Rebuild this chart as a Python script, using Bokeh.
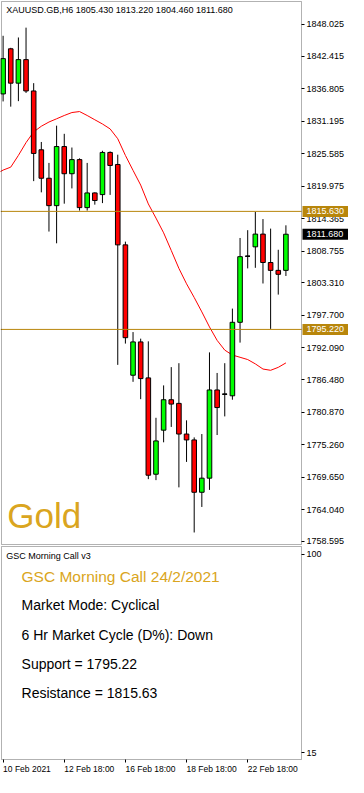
from bokeh.plotting import figure
from bokeh.layouts import column
from bokeh.models import (Range1d, FixedTicker, PrintfTickFormatter, Label, LinearAxis,
                          BoxAnnotation, ColumnDataSource)
from bokeh.core.properties import value
from bokeh.embed import file_html
from bokeh.resources import INLINE

# ---------------- data ----------------
symbol_title = "XAUUSD.GB,H6  1805.430 1813.220 1804.460 1811.680"

opens = [1835.94, 1843.74, 1837.80, 1841.87, 1836.45, 1826.28, 1821.36, 1816.62,
         1826.84, 1822.14, 1824.58, 1816.28, 1818.82, 1818.53, 1825.82, 1823.74,
         1809.84, 1787.30, 1793.06, 1786.84, 1770.18, 1777.80, 1783.06, 1782.43,
         1777.13, 1776.11, 1767.06, 1769.50, 1784.75, 1784.01, 1783.74, 1796.45,
         1807.86, 1809.50, 1811.70, 1806.79, 1805.43, 1805.43]
highs = [1845.99, 1843.91, 1845.70, 1847.40, 1837.80, 1827.63, 1824.01, 1830.45,
         1829.04, 1826.67, 1824.80, 1824.01, 1818.92, 1826.11, 1826.00, 1825.43,
         1810.40, 1794.76, 1793.62, 1793.16, 1779.94, 1785.54, 1788.70, 1789.38,
         1779.50, 1776.55, 1777.13, 1791.25, 1787.69, 1789.38, 1798.82, 1811.03,
         1812.38, 1815.53, 1814.30, 1812.65, 1808.99, 1813.22]
lows = [1834.64, 1833.74, 1834.69, 1836.11, 1820.86, 1818.92, 1812.14, 1810.11,
        1816.96, 1819.60, 1815.77, 1815.77, 1816.79, 1817.06, 1818.48, 1789.09,
        1792.77, 1786.16, 1783.16, 1769.33, 1769.16, 1775.70, 1778.36, 1767.91,
        1772.31, 1760.11, 1764.52, 1767.47, 1776.96, 1780.18, 1783.06, 1792.94,
        1805.77, 1805.87, 1803.16, 1795.31, 1801.24, 1804.46]
closes = [1842.04, 1837.80, 1841.87, 1836.45, 1825.65, 1821.36, 1816.62, 1826.84,
          1822.14, 1824.58, 1816.28, 1818.82, 1817.51, 1825.82, 1823.57, 1809.84,
          1793.79, 1793.06, 1786.72, 1770.01, 1775.94, 1783.06, 1782.31, 1777.13,
          1776.11, 1767.06, 1769.50, 1784.75, 1781.71, 1784.01, 1796.45, 1807.80,
          1807.86, 1811.70, 1806.79, 1805.43, 1804.75, 1811.68]
# moving average, first value belongs to the bar just before the first visible one
moving_avg = [1822.03, 1822.77, 1823.28, 1825.31, 1827.52, 1829.38, 1830.35, 1831.08,
              1831.64, 1832.21, 1832.72, 1832.89, 1832.21, 1831.47, 1830.74, 1829.89,
              1828.19, 1825.31, 1822.72, 1820.18, 1816.92, 1814.47, 1811.92, 1808.87,
              1805.77, 1803.11, 1800.74, 1798.25, 1795.65, 1793.33, 1791.64, 1790.79,
              1790.40, 1790.01, 1789.26, 1788.37, 1788.15, 1788.66, 1789.43]

price_ticks = [1848.025, 1842.415, 1836.805, 1831.195, 1825.585, 1819.975, 1814.365,
               1808.755, 1803.310, 1797.700, 1792.090, 1786.480, 1780.870, 1775.260,
               1769.650, 1764.040, 1758.595]
resistance = 1815.63
support = 1795.22
last_close = 1811.68

date_tick_idx = [0, 8, 16, 24, 32]
date_labels = ["10 Feb 2021", "12 Feb 18:00", "16 Feb 18:00", "18 Feb 18:00", "22 Feb 18:00"]

panel_name = "GSC Morning Call v3"
panel_heading = "GSC Morning Call 24/2/2021"
panel_lines = ["Market Mode: Cyclical", "6 Hr Market Cycle (D%): Down",
               "Support = 1795.22", "Resistance = 1815.63"]
indicator_ticks = [15, 100]

# ---------------- style / layout ----------------
FONT = "Liberation Sans"
GOLD_LINE = "#B8860B"
GOLD_TEXT = "#DAA520"
UP = "#00FF00"
DOWN = "#FF0000"

W = 348
H_MAIN = 545
H_LOW = 232
BOX_L, BOX_R = 1, 301          # chart box edges (canvas px)
BOX_T, BOX_B = 1, 544          # main chart box top/bottom (canvas px)
LBOX_T, LBOX_B = 1, 214        # lower chart box top/bottom (canvas px)

MX0, MX1 = -0.21, 39.04        # candle-index span of the chart box
MY0, MY1 = 1758.03, 1851.92    # price span of the chart box
LY0, LY1 = 12.05, 103.37       # indicator span of the lower box

kx = (MX1 - MX0) / (BOX_R - BOX_L)
XR0, XR1 = MX0 - BOX_L * kx, MX0 + (W - BOX_L) * kx
ky = (MY1 - MY0) / (BOX_B - BOX_T)
YR0, YR1 = MY0 - (H_MAIN - BOX_B) * ky, MY1 + BOX_T * ky
ky2 = (LY1 - LY0) / (LBOX_B - LBOX_T)
LR0, LR1 = LY0 - (H_LOW - LBOX_B) * ky2, LY1 + LBOX_T * ky2


def mx(px):  # reference-picture x -> candle index
    return MX0 + (px - 1) / 314.0 * (MX1 - MX0)


def my(py):  # reference-picture y -> price (main panel)
    return MY1 - (py - 1) / 554.0 * (MY1 - MY0)


def ly(py):  # reference-picture y -> indicator value (lower panel)
    return LY1 - (py - 557) / 217.0 * (LY1 - LY0)


idx = list(range(len(opens)))
ma_idx = list(range(-1, len(moving_avg) - 1))
src = ColumnDataSource(dict(
    x=idx, o=opens, h=highs, l=lows, c=closes,
    top=[max(o, c) for o, c in zip(opens, closes)],
    bot=[min(o, c) for o, c in zip(opens, closes)],
    fill=[UP if c > o else DOWN for o, c in zip(opens, closes)],
))
doji_x = [i for i, (o, c) in enumerate(zip(opens, closes)) if abs(o - c) < 1e-9]
doji_y = [opens[i] for i in doji_x]


def style_axis(a, size="9px"):
    a.major_tick_in = 0
    a.major_tick_out = 3
    a.minor_tick_in = 0
    a.minor_tick_out = 0
    a.major_tick_line_color = "black"
    a.axis_line_color = None
    a.major_label_text_font = FONT
    a.major_label_text_font_size = size
    a.major_label_text_color = "black"


# ---------------- main price panel ----------------
p = figure(width=W, height=H_MAIN, x_range=Range1d(XR0, XR1), y_range=Range1d(YR0, YR1),
           toolbar_location=None, output_backend="svg", x_axis_location=None,
           y_axis_location=None, min_border=0,
           background_fill_color="white", border_fill_color="white")
p.outline_line_color = None
p.grid.visible = False

p.line(ma_idx, moving_avg, line_color="red", line_width=1)
p.segment(x0="x", y0="l", x1="x", y1="h", source=src, line_color="black", line_width=1)
p.vbar(x="x", width=0.6, top="top", bottom="bot", source=src,
       fill_color="fill", line_color="black", line_width=1)
p.segment(x0=[x - 0.3 for x in doji_x], y0=doji_y, x1=[x + 0.3 for x in doji_x], y1=doji_y,
          line_color="black", line_width=1.5)
p.segment(x0=[XR0, XR0], y0=[resistance, support], x1=[MX1, MX1], y1=[resistance, support],
          line_color=GOLD_LINE, line_width=1)

yax = LinearAxis(ticker=FixedTicker(ticks=price_ticks),
                 formatter=PrintfTickFormatter(format="%.3f"), fixed_location=MX1)
style_axis(yax)
yax.major_label_standoff = 2
p.add_layout(yax, "right")

p.add_layout(BoxAnnotation(left=MX0, right=MX1, bottom=MY0, top=MY1, fill_alpha=0,
                           line_color="black", line_width=1))

# price tags on the scale (drawn above the scale labels)
tag_vals = [resistance, support, last_close]
tag_cols = [GOLD_LINE, GOLD_LINE, "black"]
tag_w = W - BOX_R - 1
p.rect(x=[MX1 + (1 + tag_w / 2) * kx] * 3, y=tag_vals, width=tag_w, height=11,
       width_units="screen", height_units="screen", fill_color=tag_cols, line_color=None,
       level="annotation")
p.text(x=[MX1] * 3, y=tag_vals, text=[f"{v:.3f}" for v in tag_vals], x_offset=5,
       text_font=value(FONT), text_font_size="9px", text_color="white",
       text_baseline="middle", text_align="left", level="annotation")

p.add_layout(Label(x=mx(6), y=my(10), text=symbol_title, text_font=FONT,
                   text_font_size="9px", text_color="black", text_baseline="middle",
                   text_align="left"))
p.add_layout(Label(x=mx(7), y=my(525.5), text="Gold", text_font=FONT,
                   text_font_size="35px", text_color=GOLD_TEXT,
                   text_baseline="middle", text_align="left"))

# ---------------- lower indicator panel ----------------
p2 = figure(width=W, height=H_LOW, x_range=p.x_range, y_range=Range1d(LR0, LR1),
            toolbar_location=None, output_backend="svg", x_axis_location=None,
            y_axis_location=None, min_border=0,
            background_fill_color="white", border_fill_color="white")
p2.outline_line_color = None
p2.grid.visible = False

iax = LinearAxis(ticker=FixedTicker(ticks=indicator_ticks), fixed_location=MX1)
style_axis(iax)
iax.major_label_standoff = 2
p2.add_layout(iax, "right")

dax = LinearAxis(ticker=FixedTicker(ticks=date_tick_idx), fixed_location=LY0,
                 major_label_overrides={i: "" for i in date_tick_idx})
style_axis(dax)
p2.add_layout(dax, "below")

p2.add_layout(BoxAnnotation(left=MX0, right=MX1, bottom=LY0, top=LY1, fill_alpha=0,
                            line_color="black", line_width=1))

for i, t in zip(date_tick_idx, date_labels):
    p2.add_layout(Label(x=i, y=ly(783.5), text=t, text_font=FONT,
                        text_font_size="8.5px", text_color="black",
                        text_baseline="middle", text_align="left"))

p2.add_layout(Label(x=mx(6), y=ly(566.7), text=panel_name, text_font=FONT,
                    text_font_size="9px", text_color="black", text_baseline="middle",
                    text_align="left"))
p2.add_layout(Label(x=mx(22), y=ly(587.3), text=panel_heading, text_font=FONT,
                    text_font_size="15.5px", text_color=GOLD_TEXT, text_baseline="middle",
                    text_align="left"))
for k, t in enumerate(panel_lines):
    p2.add_layout(Label(x=mx(22), y=ly(616.7 + 30 * k), text=t, text_font=FONT,
                        text_font_size="14px", text_color="black", text_baseline="middle",
                        text_align="left"))

layout = column(p, p2, spacing=0)
open("out.html", "w").write(file_html(layout, INLINE))
